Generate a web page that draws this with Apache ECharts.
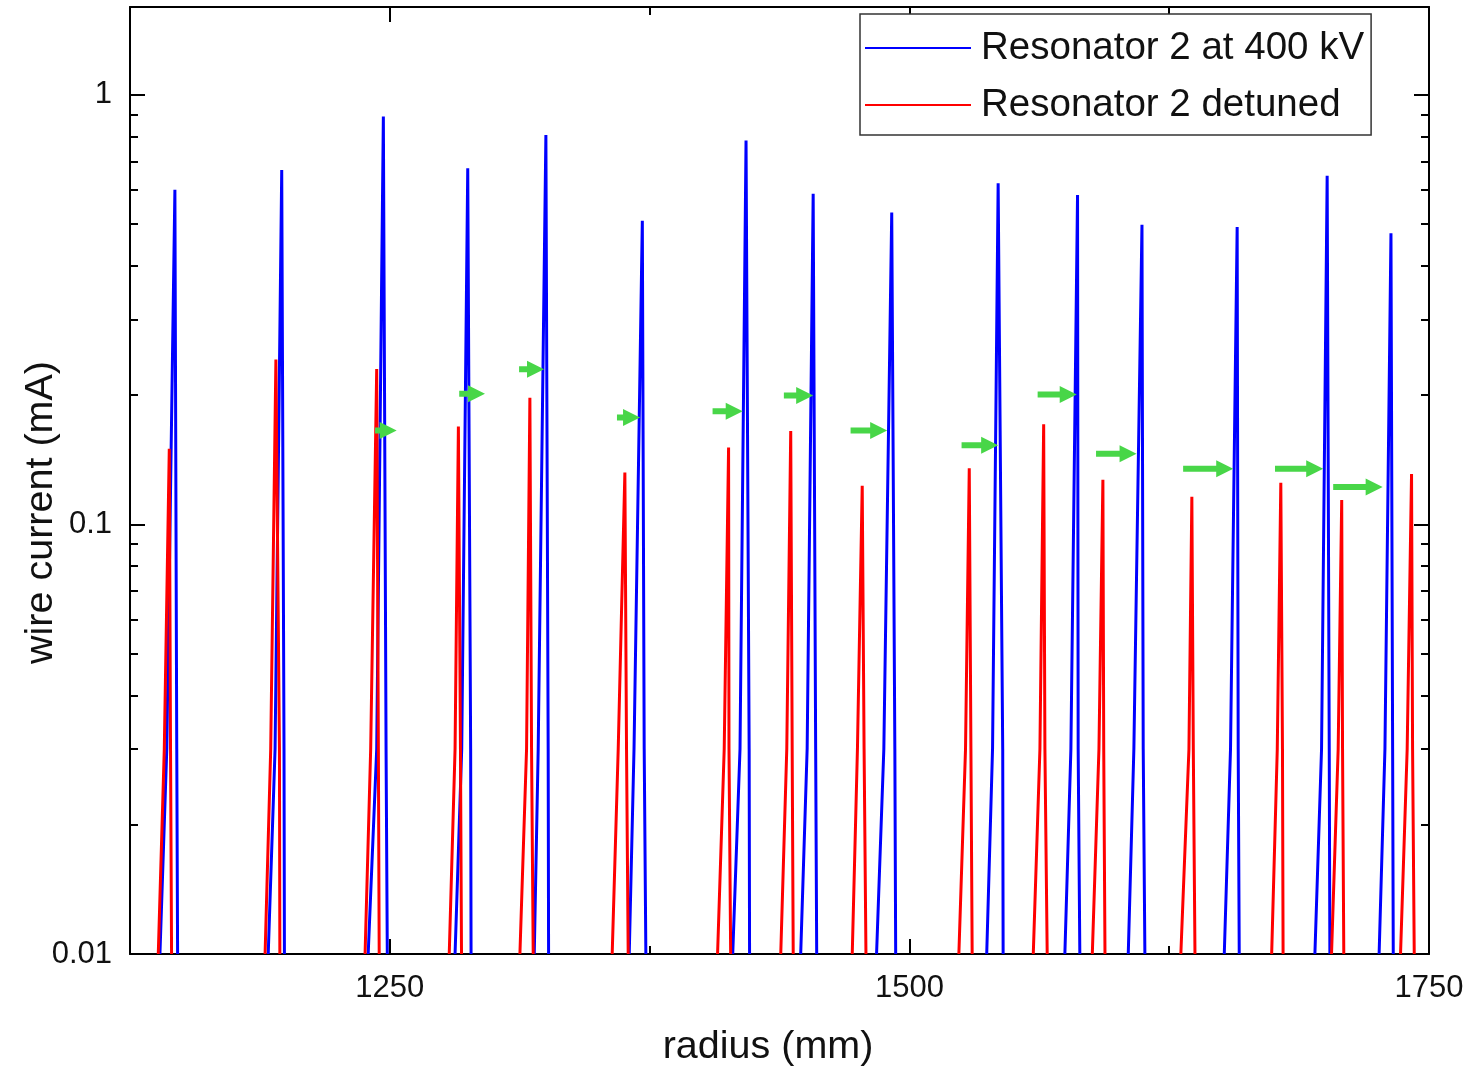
<!DOCTYPE html>
<html>
<head>
<meta charset="utf-8">
<script src="https://cdn.jsdelivr.net/npm/echarts@6/dist/echarts.min.js"></script>
<style>
  html, body { margin: 0; padding: 0; background: #fff; }
  #chart { width: 1480px; height: 1074px; }
</style>
</head>
<body>
<div id="chart"></div>
<script>
// each peak: left foot, left flank, top, right flank, right foot (radius in mm)
var blueRadius = [
  [1139.4, 1142.7, 1146.6, 1147.5, 1147.9],
  [1191.5, 1194.8, 1198.0, 1199.1, 1199.3],
  [1239.6, 1243.7, 1246.9, 1248.2, 1248.8],
  [1281.4, 1284.6, 1287.5, 1288.9, 1289.1],
  [1319.5, 1321.4, 1325.1, 1326.2, 1326.4],
  [1365.2, 1367.5, 1371.5, 1372.4, 1373.2],
  [1415.0, 1418.5, 1421.4, 1422.9, 1423.1],
  [1447.7, 1450.8, 1453.7, 1454.9, 1455.4],
  [1484.2, 1487.7, 1491.5, 1493.0, 1493.4],
  [1537.2, 1540.0, 1542.7, 1544.9, 1545.1],
  [1574.8, 1577.7, 1580.9, 1581.2, 1582.0],
  [1605.3, 1608.0, 1611.9, 1612.5, 1613.3],
  [1651.5, 1654.5, 1657.7, 1658.2, 1658.7],
  [1695.1, 1698.3, 1701.0, 1702.0, 1702.3],
  [1726.0, 1728.8, 1731.7, 1732.5, 1732.8]
];
var blueCurrent = [
  [0.01, 0.03, 0.601, 0.03, 0.01],
  [0.01, 0.03, 0.668, 0.03, 0.01],
  [0.01, 0.03, 0.890, 0.03, 0.01],
  [0.01, 0.03, 0.674, 0.03, 0.01],
  [0.01, 0.03, 0.806, 0.03, 0.01],
  [0.01, 0.03, 0.509, 0.03, 0.01],
  [0.01, 0.03, 0.782, 0.03, 0.01],
  [0.01, 0.03, 0.588, 0.03, 0.01],
  [0.01, 0.03, 0.532, 0.03, 0.01],
  [0.01, 0.03, 0.622, 0.03, 0.01],
  [0.01, 0.03, 0.584, 0.03, 0.01],
  [0.01, 0.03, 0.498, 0.03, 0.01],
  [0.01, 0.03, 0.492, 0.03, 0.01],
  [0.01, 0.03, 0.648, 0.03, 0.01],
  [0.01, 0.03, 0.476, 0.03, 0.01]
];
var redRadius = [
  [1138.6, 1141.5, 1143.9, 1144.5, 1145.0],
  [1190.0, 1192.7, 1195.2, 1196.9, 1197.1],
  [1238.1, 1240.8, 1243.7, 1244.5, 1244.9],
  [1278.6, 1281.4, 1283.0, 1284.0, 1284.5],
  [1312.6, 1315.8, 1317.4, 1318.2, 1319.0],
  [1357.0, 1359.9, 1363.1, 1363.9, 1364.7],
  [1407.7, 1410.9, 1413.0, 1413.2, 1414.0],
  [1438.1, 1441.0, 1442.9, 1443.6, 1444.1],
  [1472.5, 1475.0, 1477.3, 1478.2, 1479.1],
  [1523.8, 1527.0, 1528.8, 1529.6, 1530.2],
  [1559.6, 1562.8, 1564.6, 1565.2, 1566.3],
  [1588.0, 1591.2, 1593.1, 1593.5, 1594.1],
  [1630.6, 1634.5, 1635.9, 1636.6, 1637.4],
  [1674.3, 1677.0, 1678.7, 1679.5, 1679.8],
  [1703.1, 1706.3, 1708.0, 1708.4, 1709.0],
  [1736.3, 1739.5, 1741.6, 1742.1, 1742.9]
];
var redCurrent = [
  [0.01, 0.03, 0.150, 0.03, 0.01],
  [0.01, 0.03, 0.242, 0.03, 0.01],
  [0.01, 0.03, 0.230, 0.03, 0.01],
  [0.01, 0.03, 0.169, 0.03, 0.01],
  [0.01, 0.03, 0.197, 0.03, 0.01],
  [0.01, 0.03, 0.132, 0.03, 0.01],
  [0.01, 0.03, 0.151, 0.03, 0.01],
  [0.01, 0.03, 0.165, 0.03, 0.01],
  [0.01, 0.03, 0.123, 0.03, 0.01],
  [0.01, 0.03, 0.135, 0.03, 0.01],
  [0.01, 0.03, 0.171, 0.03, 0.01],
  [0.01, 0.03, 0.127, 0.03, 0.01],
  [0.01, 0.03, 0.116, 0.03, 0.01],
  [0.01, 0.03, 0.125, 0.03, 0.01],
  [0.01, 0.03, 0.114, 0.03, 0.01],
  [0.01, 0.03, 0.131, 0.03, 0.01]
];
// green arrows: start radius, end radius, current
var arrowStart = [1242.9, 1283.4, 1312.2, 1359.3, 1405.3, 1439.6, 1471.7, 1525.1, 1561.7, 1589.8, 1631.7, 1675.9, 1703.9];
var arrowEnd   = [1253.3, 1295.8, 1324.2, 1370.4, 1419.8, 1453.7, 1489.3, 1542.7, 1580.5, 1609.3, 1655.8, 1699.1, 1727.7];
var arrowLevel = [0.1654, 0.2013, 0.2297, 0.1773, 0.1834, 0.1995, 0.1654, 0.1527, 0.2006, 0.146, 0.1347, 0.1347, 0.1221];

var xLabels = [1250, 1500, 1750];
var yLabels = [0.01, 0.1, 1];
var yMinor = [0.02, 0.03, 0.04, 0.05, 0.06, 0.07, 0.08, 0.09, 0.2, 0.3, 0.4, 0.5, 0.6, 0.7, 0.8, 0.9];

function joinPeaks(rs, cs) {
  var out = [];
  rs.forEach(function (peak, i) {
    if (i > 0) out.push(['-', '-']);
    peak.forEach(function (r, j) { out.push([r, cs[i][j]]); });
  });
  return out;
}
var blueData = joinPeaks(blueRadius, blueCurrent);
var redData = joinPeaks(redRadius, redCurrent);
var arrowData = arrowStart.map(function (s, i) { return [s, arrowEnd[i], arrowLevel[i]]; });

var FONT = 'Liberation Sans';
var YMAX = 1.6;
var logMax = Math.log10(YMAX);
var minorLog = yMinor.map(function (v) { return Math.log10(v); });
var black = '#000';

var chart = echarts.init(document.getElementById('chart'), null, { renderer: 'canvas' });

function xAxisBase(pos) {
  return {
    type: 'value', position: pos, min: 1125, max: 1750, interval: 125,
    splitLine: { show: false },
    axisLine: { show: true, onZero: false, lineStyle: { color: black, width: 2 } },
    axisTick: { show: true, inside: true, length: 8, lineStyle: { color: black, width: 2 } },
    axisLabel: { show: false }
  };
}
var xMain = xAxisBase('bottom');
xMain.axisLabel = {
  show: true, fontFamily: FONT, fontSize: 31, color: '#111', margin: 19,
  showMinLabel: true, showMaxLabel: true,
  formatter: function (v) { return xLabels.indexOf(v) >= 0 ? String(v) : ''; }
};
xMain.name = 'radius (mm)';
xMain.nameLocation = 'middle';
xMain.nameGap = 73;
xMain.nameTextStyle = { fontFamily: FONT, fontSize: 39.5, color: '#111', padding: [0, 23, 0, 0] };

var xMajorBottom = xAxisBase('bottom');
xMajorBottom.axisLine = { show: false, onZero: false };
xMajorBottom.axisTick = { show: true, inside: true, length: 15, customValues: xLabels, lineStyle: { color: black, width: 2 } };
var xTop = xAxisBase('top');
var xMajorTop = xAxisBase('top');
xMajorTop.axisLine = { show: false, onZero: false };
xMajorTop.axisTick = { show: true, inside: true, length: 15, customValues: xLabels, lineStyle: { color: black, width: 2 } };

function yLog(pos, labels) {
  return {
    type: 'log', logBase: 10, position: pos, min: 0.01, max: YMAX,
    splitLine: { show: false },
    axisLine: { show: true, onZero: false, lineStyle: { color: black, width: 2 } },
    axisTick: { show: true, inside: true, length: 15, lineStyle: { color: black, width: 2 } },
    axisLabel: labels ? {
      show: true, fontFamily: FONT, fontSize: 31, color: '#111', margin: 18,
      showMaxLabel: false,
      formatter: function (v) {
        for (var i = 0; i < yLabels.length; i++) {
          if (Math.abs(v - yLabels[i]) < yLabels[i] * 1e-6) return String(yLabels[i]);
        }
        return '';
      }
    } : { show: false }
  };
}
function yMinorAxis(pos) {
  return {
    type: 'value', position: pos, min: -2, max: logMax,
    splitLine: { show: false },
    axisLine: { show: false, onZero: false },
    axisTick: { show: true, inside: true, length: 8, customValues: minorLog, lineStyle: { color: black, width: 2 } },
    axisLabel: { show: false }
  };
}
var yMain = yLog('left', true);
yMain.name = 'wire current (mA)';
yMain.nameLocation = 'middle';
yMain.nameGap = 69;
yMain.nameMoveOverlap = false;
yMain.nameTextStyle = { fontFamily: FONT, fontSize: 39.5, color: '#111', padding: [0, 64, 0, 0] };

var option = {
  animation: false,
  backgroundColor: '#fff',
  grid: { left: 130, right: 51, top: 7, bottom: 120, outerBoundsMode: 'none', containLabel: false },
  legend: {
    orient: 'vertical', left: 860, top: 14,
    padding: [12, 7, 8, 5],
    icon: 'rect',
    itemWidth: 106, itemHeight: 2, itemGap: 13,
    backgroundColor: '#fff', borderColor: '#333', borderWidth: 1.5, borderRadius: 0,
    data: ['Resonator 2 at 400 kV', 'Resonator 2 detuned'],
    textStyle: { fontFamily: FONT, fontSize: 38.5, color: '#111', lineHeight: 40, padding: [4, 0, 0, 5] }
  },
  xAxis: [xMain, xMajorBottom, xTop, xMajorTop],
  yAxis: [yMain, yLog('right', false), yMinorAxis('left'), yMinorAxis('right')],
  series: [
    {
      name: 'Resonator 2 at 400 kV', type: 'line', xAxisIndex: 0, yAxisIndex: 0,
      data: blueData, symbol: 'none', connectNulls: false, clip: true,
      lineStyle: { color: '#0000ff', width: 3 }, itemStyle: { color: '#0000ff' }, z: 3
    },
    {
      name: 'Resonator 2 detuned', type: 'line', xAxisIndex: 0, yAxisIndex: 0,
      data: redData, symbol: 'none', connectNulls: false, clip: true,
      lineStyle: { color: '#ff0000', width: 3 }, itemStyle: { color: '#ff0000' }, z: 4
    },
    {
      type: 'custom', xAxisIndex: 0, yAxisIndex: 0, silent: true, z: 5,
      data: arrowData, encode: { x: [0, 1], y: 2 },
      renderItem: function (params, api) {
        var a = api.coord([api.value(0), api.value(2)]);
        var b = api.coord([api.value(1), api.value(2)]);
        var head = 17, half = 8.5, shaft = 3;
        var hx = b[0] - head;
        return {
          type: 'polygon',
          shape: { points: [[a[0], a[1] - shaft], [hx, a[1] - shaft], [hx, a[1] - half], [b[0], b[1]],
                            [hx, a[1] + half], [hx, a[1] + shaft], [a[0], a[1] + shaft]] },
          style: { fill: '#48d648' }
        };
      }
    }
  ]
};
chart.setOption(option);
</script>
</body>
</html>
